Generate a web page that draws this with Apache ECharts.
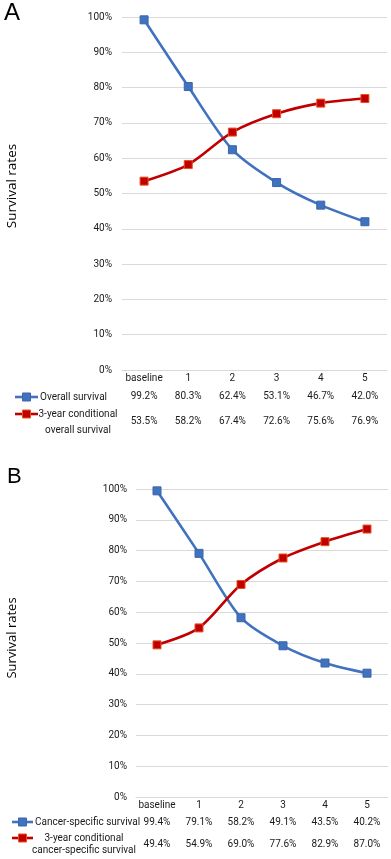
<!DOCTYPE html>
<html><head><meta charset="utf-8">
<script src="https://cdn.jsdelivr.net/npm/echarts@6/dist/echarts.min.js"></script>
<style>html,body{margin:0;padding:0;background:#fff}#c{width:391px;height:859px}</style>
</head><body><div id="c"></div>
<script>
const categories = ['baseline', '1', '2', '3', '4', '5'];
const yTicks = [0,10,20,30,40,50,60,70,80,90,100];
// Panel A
const overallSurvival = [99.2, 80.3, 62.4, 53.1, 46.7, 42.0];
const condOverallSurvival = [53.5, 58.2, 67.4, 72.6, 75.6, 76.9];
// Panel B
const cancerSpecific = [99.4, 79.1, 58.2, 49.1, 43.5, 40.2];
const condCancerSpecific = [49.4, 54.9, 69.0, 77.6, 82.9, 87.0];
const namesA = ['Overall survival', '3-year conditional\noverall survival'];
const namesB = ['Cancer-specific survival', '3-year conditional\ncancer-specific survival'];
const panelTitles = ['A', 'B'];
const yTitle = 'Survival rates';

const FONT = 'Roboto, sans-serif';
const FS = 10;
const TXT = '#1a1a1a';
const BLUE = '#4072c0';
const RED = '#c00000';
const GRIDC = '#d9d9d9';

function fmt(v){ return v.toFixed(1) + '%'; }

function xAxesFor(gi, valsTop, valsBot, offs){
  const base = {type:'category', gridIndex:gi, data:categories, boundaryGap:true, position:'bottom',
    axisTick:{show:false}, splitLine:{show:false}};
  return [
    Object.assign({}, base, {axisLine:{show:true, lineStyle:{color:GRIDC}},
      axisLabel:{margin:offs[0], fontFamily:FONT, fontSize:FS, color:TXT, interval:0}}),
    Object.assign({}, base, {offset:offs[1], axisLine:{show:false},
      axisLabel:{margin:offs[0], fontFamily:FONT, fontSize:FS, color:TXT, interval:0,
        formatter:(v,i)=>fmt(valsTop[i])}}),
    Object.assign({}, base, {offset:offs[2], axisLine:{show:false},
      axisLabel:{margin:offs[0], fontFamily:FONT, fontSize:FS, color:TXT, interval:0,
        formatter:(v,i)=>fmt(valsBot[i])}})
  ];
}
function yAxisFor(gi, margin){
  return {type:'value', gridIndex:gi, min:0, max:100, interval:10,
    axisLine:{show:false}, axisTick:{show:false},
    splitLine:{show:true, lineStyle:{color:GRIDC, width:1}},
    axisLabel:{margin:margin, fontFamily:FONT, fontSize:FS, color:TXT, formatter:'{value}%'}};
}
function lineSeries(name, data, xi, yi, color, border){
  return {type:'line', name:name, data:data, xAxisIndex:xi, yAxisIndex:yi, smooth:0.28,
    symbol:'rect', symbolSize:8, lineStyle:{color:color, width:2.6},
    itemStyle:{color:color, borderColor:border, borderWidth:1}, z:3};
}
function legendKey(x1, x2, y, color, border){
  return [
    {type:'line', shape:{x1:x1, y1:y, x2:x2, y2:y}, style:{stroke:color, lineWidth:2.6}},
    {type:'rect', shape:{x:(x1+x2)/2-4, y:y-4, width:8, height:8}, style:{fill:color, stroke:border, lineWidth:1}}
  ];
}
function txt(x, y, s, opts){
  return {type:'text', x:x, y:y, style:Object.assign({text:s, fill:TXT, font:FS+'px '+FONT, textVerticalAlign:'middle'}, opts||{})};
}

const redA = namesA[1].split('\n');
const redB = namesB[1].split('\n');

const graphic = [
  {type:'text', left:4, top:1, style:{text:panelTitles[0], fill:'#000', font:'24px "Liberation Sans", sans-serif'}},
  {type:'text', left:7, top:466, style:{text:panelTitles[1], fill:'#000', font:'22px "Liberation Sans", sans-serif'}},
  {type:'text', x:12, y:186, rotation:Math.PI/2, style:{text:yTitle, fill:'#000', font:'13.5px "Open Sans", sans-serif', textAlign:'center', textVerticalAlign:'middle'}},
  {type:'text', x:12, y:638, rotation:Math.PI/2, style:{text:yTitle, fill:'#000', font:'13px "Open Sans", sans-serif', textAlign:'center', textVerticalAlign:'middle'}},
  ...legendKey(15, 38, 397, BLUE, '#3a66aa'),
  txt(40, 397, namesA[0]),
  ...legendKey(15, 38, 414, RED, '#e8501e'),
  txt(78, 414, redA[0], {textAlign:'center'}),
  txt(78, 430, redA[1], {textAlign:'center'}),
  ...legendKey(12, 33, 822, BLUE, '#3a66aa'),
  txt(35, 822, namesB[0]),
  ...legendKey(12, 33, 838, RED, '#e8501e'),
  txt(84, 838, redB[0], {textAlign:'center'}),
  txt(84, 850, redB[1], {textAlign:'center'})
];

const option = {
  animation:false,
  backgroundColor:'#fff',
  textStyle:{fontFamily:FONT},
  grid:[
    {left:122, top:17, width:265, height:353},
    {left:136, top:489, width:252, height:308}
  ],
  xAxis:[...xAxesFor(0, overallSurvival, condOverallSurvival, [3,18,43]),
         ...xAxesFor(1, cancerSpecific, condCancerSpecific, [3,17,39])],
  yAxis:[yAxisFor(0, 10), yAxisFor(1, 9)],
  series:[
    lineSeries(namesA[0], overallSurvival, 0, 0, BLUE, '#3a66aa'),
    lineSeries(namesA[1], condOverallSurvival, 0, 0, RED, '#e8501e'),
    lineSeries(namesB[0], cancerSpecific, 3, 1, BLUE, '#3a66aa'),
    lineSeries(namesB[1], condCancerSpecific, 3, 1, RED, '#e8501e')
  ],
  graphic:graphic
};
const chart = echarts.init(document.getElementById('c'), null, {renderer:'canvas'});
chart.setOption(option);
</script></body></html>
